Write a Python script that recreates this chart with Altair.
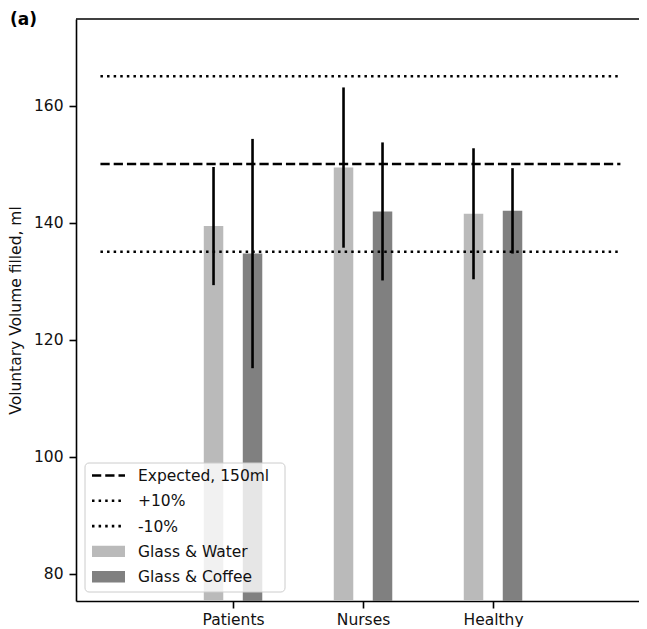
import json
import altair as alt
import pandas as pd

# ---------------- data ----------------
groups = ["Patients", "Nurses", "Healthy"]
series = ["Glass & Water", "Glass & Coffee"]
water_mean = [139.4, 149.4, 141.5]
water_err = [10.1, 13.7, 11.2]
coffee_mean = [134.7, 141.9, 142.0]
coffee_err = [19.6, 11.8, 7.3]
expected = 150
plus10 = 165
minus10 = 135
y_ticks = [80, 100, 120, 140, 160]
bar_colors = ["#bababa", "#808080"]
legend_labels = ["Expected, 150ml", "+10%", "-10%", "Glass & Water", "Glass & Coffee"]

rows = []
for i, g in enumerate(groups):
    rows.append(dict(group=g, idx=i, series=series[0], side=-1,
                     mean=water_mean[i], err=water_err[i]))
    rows.append(dict(group=g, idx=i, series=series[1], side=1,
                     mean=coffee_mean[i], err=coffee_err[i]))
df = pd.DataFrame(rows)

# ---------------- layout / style ----------------
W, H = 563, 582
Y_DOM = [75.3, 174.8]
X_DOM = [-1.208, 3.123]
OFF = 0.15
HALF = 0.075
LINE_X = [-1.02, 2.98]
FONT = "DejaVu Sans"
LW = 2.6
DASH = [9.25, 4]
DOT = [2.5, 4.1]

xs = alt.Scale(domain=X_DOM, nice=False, zero=False)
ys = alt.Scale(domain=Y_DOM, nice=False, zero=False)
one = alt.Data(values=[{}])

label_expr = "[" + ",".join(json.dumps(g) for g in groups) + "][datum.value]"
x_axis = alt.Axis(values=[0, 1, 2], labelExpr=label_expr, title=None)
y_axis = alt.Axis(values=y_ticks, title="Voluntary Volume filled, ml")

base = alt.Chart(df).transform_calculate(
    xc=f"datum.idx + datum.side * {OFF}",
    xa=f"datum.idx + datum.side * {OFF} - {HALF}",
    xb=f"datum.idx + datum.side * {OFF} + {HALF}",
    lo="datum.mean - datum.err",
    hi="datum.mean + datum.err",
)

bars = base.mark_bar(clip=True).encode(
    x=alt.X("xa:Q", scale=xs, axis=x_axis),
    x2="xb:Q",
    y=alt.Y("mean:Q", scale=ys, axis=y_axis),
    y2=alt.value(H),
    color=alt.Color("series:N", scale=alt.Scale(domain=series, range=bar_colors),
                    legend=None),
)

errs = base.mark_rule(color="black", strokeWidth=LW).encode(
    x=alt.X("xc:Q", scale=xs, axis=x_axis),
    y=alt.Y("lo:Q", scale=ys, axis=y_axis),
    y2="hi:Q",
)

exp_line = alt.Chart(one).mark_rule(color="black", strokeWidth=LW, strokeDash=DASH).encode(
    x=alt.X(datum=LINE_X[0], scale=xs, axis=x_axis),
    x2=alt.X2(datum=LINE_X[1]),
    y=alt.Y(datum=expected, scale=ys, axis=y_axis),
)
dot_lines = [
    alt.Chart(one).mark_rule(color="black", strokeWidth=LW, strokeDash=DOT).encode(
        x=alt.X(datum=LINE_X[0], scale=xs, axis=x_axis),
        x2=alt.X2(datum=LINE_X[1]),
        y=alt.Y(datum=v, scale=ys, axis=y_axis),
    )
    for v in (plus10, minus10)
]

top_spine = alt.Chart(one).mark_rule(color="black", strokeWidth=1.6).encode(
    x=alt.value(0), x2=alt.value(W), y=alt.value(0)
)

# ---------------- legend (drawn manually) ----------------
LX0, LX1, LY0, LY1 = 9, 209, 444, 573
HX0, HX1, TX = 16, 49, 62
ROW0, ROWD = 456.5, 25.3

legend_layers = [
    alt.Chart(one).mark_rect(fill="white", fillOpacity=0.8, stroke="#cccccc",
                             strokeWidth=1, cornerRadius=4).encode(
        x=alt.value(LX0), x2=alt.value(LX1), y=alt.value(LY0), y2=alt.value(LY1))
]
for k, lab in enumerate(legend_labels):
    yc = ROW0 + k * ROWD
    if k == 0:
        h = alt.Chart(one).mark_rule(color="black", strokeWidth=LW, strokeDash=DASH).encode(
            x=alt.value(HX0), x2=alt.value(HX1), y=alt.value(yc))
    elif k in (1, 2):
        h = alt.Chart(one).mark_rule(color="black", strokeWidth=LW, strokeDash=DOT).encode(
            x=alt.value(HX0), x2=alt.value(HX1), y=alt.value(yc))
    else:
        h = alt.Chart(one).mark_rect(color=bar_colors[k - 3]).encode(
            x=alt.value(HX0), x2=alt.value(HX1),
            y=alt.value(yc - 5.7), y2=alt.value(yc + 5.7))
    t = alt.Chart(one).mark_text(align="left", baseline="middle", font=FONT,
                                 fontSize=15.5, color="#111111", text=lab).encode(
        x=alt.value(TX), y=alt.value(yc + 0.5))
    legend_layers += [h, t]

panel_label = alt.Chart(one).mark_text(align="left", baseline="alphabetic", font=FONT,
                                       fontSize=17, fontWeight="bold", color="black",
                                       text="(a)").encode(
    x=alt.value(-66), y=alt.value(6))

chart = alt.layer(
    bars, errs, exp_line, *dot_lines, top_spine, *legend_layers, panel_label
).properties(
    width=W, height=H,
    autosize=alt.AutoSizeParams(type="none"),
    padding={"left": 68, "top": 11, "right": 0, "bottom": 26},
    background="white",
).configure_view(
    stroke=None
).configure_axis(
    grid=False,
    domainColor="black", domainWidth=1.6,
    tickColor="black", tickWidth=1.6, tickSize=7,
    labelFont=FONT, labelFontSize=15.5, labelColor="#111111",
    titleFont=FONT, titleFontSize=15.5, titleFontWeight="normal", titleColor="#111111",
).configure_axisY(
    labelPadding=6, titlePadding=10,
).configure_axisX(
    labelPadding=4,
)

chart.save("out.html", embed_options={"renderer": "svg", "actions": False})
